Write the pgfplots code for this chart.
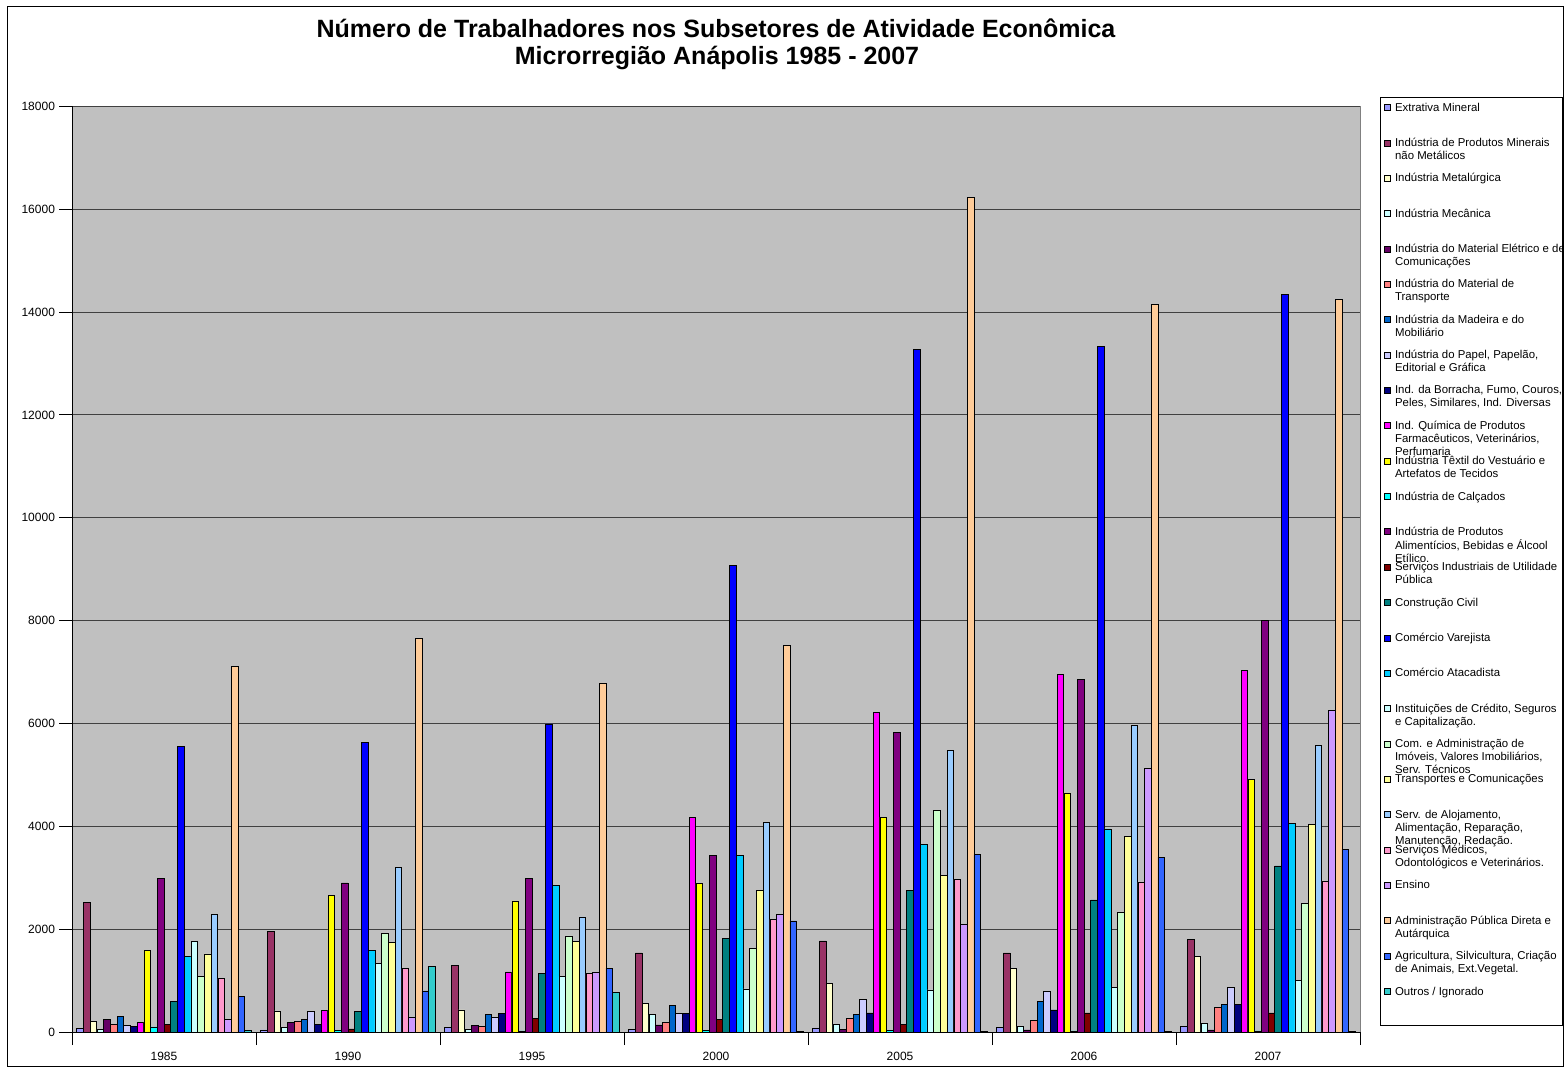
\documentclass[border=0pt]{standalone}
\usepackage{pgfplots}
\pgfplotsset{compat=1.18}
\usepackage{fontspec}
\setmainfont{Liberation Sans}

\definecolor{c1}{HTML}{9999FF}
\definecolor{c2}{HTML}{993366}
\definecolor{c3}{HTML}{FFFFCC}
\definecolor{c4}{HTML}{CCFFFF}
\definecolor{c5}{HTML}{660066}
\definecolor{c6}{HTML}{FF8080}
\definecolor{c7}{HTML}{0066CC}
\definecolor{c8}{HTML}{CCCCFF}
\definecolor{c9}{HTML}{000080}
\definecolor{c10}{HTML}{FF00FF}
\definecolor{c11}{HTML}{FFFF00}
\definecolor{c12}{HTML}{00FFFF}
\definecolor{c13}{HTML}{800080}
\definecolor{c14}{HTML}{800000}
\definecolor{c15}{HTML}{008080}
\definecolor{c16}{HTML}{0000FF}
\definecolor{c17}{HTML}{00CCFF}
\definecolor{c18}{HTML}{CCFFFF}
\definecolor{c19}{HTML}{CCFFCC}
\definecolor{c20}{HTML}{FFFF99}
\definecolor{c21}{HTML}{99CCFF}
\definecolor{c22}{HTML}{FF99CC}
\definecolor{c23}{HTML}{CC99FF}
\definecolor{c24}{HTML}{FFCC99}
\definecolor{c25}{HTML}{3366FF}
\definecolor{c26}{HTML}{33CCCC}
\definecolor{wall}{HTML}{C0C0C0}

\newcommand{\LE}[1]{\makebox[82pt][l]{\begin{tabular}[t]{@{}l@{}}#1\end{tabular}}}

\begin{document}
\begin{tikzpicture}
\path[use as bounding box] (0pt,0pt) rectangle (782pt,533.5pt);
\draw[line width=0.5pt] (3.5pt,0.5pt) rectangle (781.5pt,530pt);
\node[anchor=base, font=\fontsize{12.5}{14}\selectfont\bfseries, inner sep=0pt] at (358pt,514.6pt) {Número de Trabalhadores nos Subsetores de Atividade Econômica};
\node[anchor=base, font=\fontsize{12.5}{14}\selectfont\bfseries, inner sep=0pt] at (358.5pt,501.1pt) {Microrregião Anápolis 1985 - 2007};
\begin{axis}[
  at={(36pt,17.5pt)}, anchor=south west,
  scale only axis, width=644pt, height=462.8pt,
  xmin=-0.5, xmax=6.5, ymin=0, ymax=18000,
  ybar=0.06pt, bar width=3.3pt,
  axis background/.style={fill=wall, draw=black!50},
  axis x line*=bottom, axis y line*=left,
  axis line style={-, draw=black, line width=0.5pt},
  xtick={0,...,6},
  xticklabels={1985,1990,1995,2000,2005,2006,2007},
  minor xtick={-0.5,0.5,1.5,2.5,3.5,4.5,5.5,6.5},
  major x tick style={draw=none},
  minor x tick style={draw=black, line width=0.5pt},
  ytick={0,2000,...,18000},
  y tick style={draw=black, line width=0.5pt},
  tick align=outside,
  major tick length=6.5pt, minor tick length=6.5pt,
  ymajorgrids, xmajorgrids=false, xminorgrids=false,
  grid style={black!75, line width=0.5pt},
  scaled y ticks=false,
  /pgf/number format/.cd, 1000 sep={}, assume math mode=true, /pgfplots/.cd,
  tick label style={font=\fontsize{6}{7}\selectfont},
  yticklabel style={xshift=1.5pt},
  every axis plot post/.append style={draw=black, line width=0.3pt,
    legend image code/.code={\draw[#1, draw=black, line width=0.3pt] (0pt,0.3pt) rectangle (3.2pt,3.3pt);}},
  legend style={
    at={(1.0155,1.0101)}, anchor=north west,
    draw=black, line width=0.5pt, fill=white,
    font=\fontsize{5.7}{6.5}\selectfont,
    inner xsep=1.75pt, inner ysep=2.25pt,
    row sep=0pt, column sep=2.05pt,
    cells={anchor=base west},
    nodes={inner sep=0pt, text height=4.5pt, text depth=13.18pt},
  },
]
\addplot[fill=c1] coordinates {(0,70) (1,40) (2,90) (3,50) (4,80) (5,90) (6,110)};
\addlegendentry{\LE{Extrativa Mineral}}
\addplot[fill=c2] coordinates {(0,2520) (1,1960) (2,1290) (3,1540) (4,1770) (5,1540) (6,1800)};
\addlegendentry{\LE{Indústria de Produtos Minerais\\não Metálicos}}
\addplot[fill=c3] coordinates {(0,200) (1,410) (2,430) (3,550) (4,950) (5,1230) (6,1470)};
\addlegendentry{\LE{Indústria Metalúrgica}}
\addplot[fill=c4] coordinates {(0,50) (1,90) (2,50) (3,340) (4,150) (5,110) (6,160)};
\addlegendentry{\LE{Indústria Mecânica}}
\addplot[fill=c5] coordinates {(0,240) (1,180) (2,130) (3,140) (4,50) (5,40) (6,40)};
\addlegendentry{\LE{Indústria do Material Elétrico e de\\Comunicações}}
\addplot[fill=c6] coordinates {(0,150) (1,210) (2,110) (3,180) (4,260) (5,230) (6,480)};
\addlegendentry{\LE{Indústria do Material de\\Transporte}}
\addplot[fill=c7] coordinates {(0,310) (1,240) (2,340) (3,520) (4,340) (5,600) (6,540)};
\addlegendentry{\LE{Indústria da Madeira e do\\Mobiliário}}
\addplot[fill=c8] coordinates {(0,130) (1,400) (2,280) (3,360) (4,640) (5,800) (6,870)};
\addlegendentry{\LE{Indústria do Papel, Papelão,\\Editorial e Gráfica}}
\addplot[fill=c9] coordinates {(0,115) (1,150) (2,360) (3,360) (4,370) (5,430) (6,530)};
\addlegendentry{\LE{Ind. da Borracha, Fumo, Couros,\\Peles, Similares, Ind. Diversas}}
\addplot[fill=c10] coordinates {(0,190) (1,420) (2,1170) (3,4180) (4,6210) (5,6950) (6,7030)};
\addlegendentry{\LE{Ind. Química de Produtos\\Farmacêuticos, Veterinários,\\Perfumaria}}
\addplot[fill=c11] coordinates {(0,1590) (1,2650) (2,2550) (3,2890) (4,4180) (5,4650) (6,4910)};
\addlegendentry{\LE{Indústria Têxtil do Vestuário e\\Artefatos de Tecidos}}
\addplot[fill=c12] coordinates {(0,100) (1,30) (2,20) (3,30) (4,30) (5,20) (6,20)};
\addlegendentry{\LE{Indústria de Calçados}}
\addplot[fill=c13] coordinates {(0,2980) (1,2900) (2,2990) (3,3430) (4,5830) (5,6860) (6,8010)};
\addlegendentry{\LE{Indústria de Produtos\\Alimentícios, Bebidas e Álcool\\Etílico.}}
\addplot[fill=c14] coordinates {(0,150) (1,60) (2,260) (3,250) (4,150) (5,370) (6,370)};
\addlegendentry{\LE{Serviços Industriais de Utilidade\\Pública}}
\addplot[fill=c15] coordinates {(0,600) (1,400) (2,1140) (3,1820) (4,2750) (5,2570) (6,3230)};
\addlegendentry{\LE{Construção Civil}}
\addplot[fill=c16] coordinates {(0,5550) (1,5630) (2,5990) (3,9080) (4,13270) (5,13340) (6,14350)};
\addlegendentry{\LE{Comércio Varejista}}
\addplot[fill=c17] coordinates {(0,1470) (1,1580) (2,2850) (3,3440) (4,3650) (5,3950) (6,4060)};
\addlegendentry{\LE{Comércio Atacadista}}
\addplot[fill=c18] coordinates {(0,1760) (1,1330) (2,1080) (3,840) (4,820) (5,870) (6,1000)};
\addlegendentry{\LE{Instituições de Crédito, Seguros\\e Capitalização.}}
\addplot[fill=c19] coordinates {(0,1080) (1,1910) (2,1870) (3,1620) (4,4310) (5,2320) (6,2500)};
\addlegendentry{\LE{Com. e Administração de\\Imóveis, Valores Imobiliários,\\Serv. Técnicos}}
\addplot[fill=c20] coordinates {(0,1520) (1,1740) (2,1760) (3,2760) (4,3050) (5,3810) (6,4030)};
\addlegendentry{\LE{Transportes e Comunicações}}
\addplot[fill=c21] coordinates {(0,2280) (1,3200) (2,2240) (3,4070) (4,5480) (5,5970) (6,5580)};
\addlegendentry{\LE{Serv. de Alojamento,\\Alimentação, Reparação,\\Manutenção, Redação.}}
\addplot[fill=c22] coordinates {(0,1040) (1,1230) (2,1140) (3,2190) (4,2970) (5,2920) (6,2940)};
\addlegendentry{\LE{Serviços Médicos,\\Odontológicos e Veterinários.}}
\addplot[fill=c23] coordinates {(0,240) (1,290) (2,1170) (3,2280) (4,2100) (5,5130) (6,6260)};
\addlegendentry{\LE{Ensino}}
\addplot[fill=c24] coordinates {(0,7110) (1,7650) (2,6790) (3,7520) (4,16230) (5,14150) (6,14250)};
\addlegendentry{\LE{Administração Pública Direta e\\Autárquica}}
\addplot[fill=c25] coordinates {(0,700) (1,800) (2,1240) (3,2160) (4,3450) (5,3400) (6,3550)};
\addlegendentry{\LE{Agricultura, Silvicultura, Criação\\de Animais, Ext.Vegetal.}}
\addplot[fill=c26] coordinates {(0,30) (1,1270) (2,770) (3,10) (4,10) (5,10) (6,10)};
\addlegendentry{\LE{Outros / Ignorado}}
\end{axis}
\end{tikzpicture}
\end{document}
